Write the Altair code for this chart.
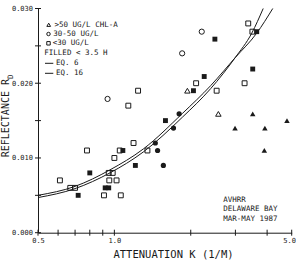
import altair as alt
import pandas as pd

# Delaware Bay, AVHRR match-ups, Mar-May 1987
# diffuse attenuation K (1/m) against reflectance R_D, by chlorophyll class

# < 30 ug/L chl-a
sq_open_k = [0.61, 0.67, 0.70, 0.78, 0.91, 0.95, 0.985, 0.955, 1.02, 1.00, 1.06,
             1.05, 1.19, 1.35, 1.135, 1.24, 2.10, 2.53, 3.26, 3.37, 3.50]
sq_open_r = [0.0070, 0.0060, 0.0060, 0.0110, 0.0050, 0.0080, 0.0080, 0.0070, 0.0070,
             0.0100, 0.0050, 0.0110, 0.0120, 0.0110, 0.0170, 0.0190, 0.0200, 0.0190,
             0.0200, 0.0280, 0.0269]
sq_fill_k = [0.72, 0.80, 0.92, 0.95, 1.08, 1.21, 1.59, 2.05, 2.26, 2.49, 3.51, 3.64]
sq_fill_r = [0.0050, 0.0080, 0.0060, 0.0060, 0.0110, 0.0090, 0.0150, 0.0190, 0.0209,
             0.0259, 0.0219, 0.0269]

# 30-50 ug/L chl-a
ci_open_k = [0.94, 1.85, 2.21]
ci_open_r = [0.0179, 0.0240, 0.0269]
ci_fill_k = [1.45, 1.48, 1.56, 1.71, 1.80]
ci_fill_r = [0.0120, 0.0110, 0.0090, 0.0140, 0.0159]

# > 50 ug/L chl-a
tr_open_k = [1.94, 2.57]
tr_open_r = [0.0190, 0.0159]
tr_fill_k = [2.99, 3.51, 3.92, 3.90, 4.79]
tr_fill_r = [0.0140, 0.0159, 0.0140, 0.0110, 0.0150]

# model curves
eq6_k = [0.5, 0.7, 0.96, 1.3, 1.86, 2.4, 2.99, 3.48, 3.86]
eq6_r = [0.0047, 0.0059, 0.0080, 0.0108, 0.0155, 0.0193, 0.0234, 0.0267, 0.0300]
eq16_k = [0.5, 0.7, 0.96, 1.3, 1.86, 2.4, 2.99, 3.64, 4.21]
eq16_r = [0.0050, 0.0062, 0.0084, 0.0112, 0.0160, 0.0197, 0.0234, 0.0267, 0.0300]

# axis ticks and labels
x_ticks = [0.5, 0.6, 0.7, 0.8, 0.9, 1.0, 2.0, 3.0, 4.0, 5.0]
x_labels = [0.5, 1.0, 5.0]
y_ticks = [0.0, 0.005, 0.010, 0.015, 0.020, 0.025, 0.030]
y_labels = [0.0, 0.010, 0.020, 0.030]

classes = [">50", "30-50", "<30"]

FONT = "DejaVu Sans Mono"
INK = "#1a1a1a"
W, H = 253.7, 224.2


def frame(k, r, cls, filled):
    return pd.DataFrame({"K": k, "R": r, "cls": cls, "filled": filled})


pts = pd.concat([
    frame(sq_open_k, sq_open_r, "<30", False),
    frame(sq_fill_k, sq_fill_r, "<30", True),
    frame(ci_open_k, ci_open_r, "30-50", False),
    frame(ci_fill_k, ci_fill_r, "30-50", True),
    frame(tr_open_k, tr_open_r, ">50", False),
    frame(tr_fill_k, tr_fill_r, ">50", True),
], ignore_index=True)

curves = pd.concat([
    pd.DataFrame({"K": eq6_k, "R": eq6_r, "eq": "EQ. 6"}),
    pd.DataFrame({"K": eq16_k, "R": eq16_r, "eq": "EQ. 16"}),
], ignore_index=True)

xs = alt.Scale(type="log", domain=[0.5, 5], nice=False)
ys = alt.Scale(domain=[0, 0.03], nice=False, zero=False)

shape_enc = alt.Shape("cls:N", scale=alt.Scale(domain=classes,
                      range=["triangle-up", "circle", "square"]), legend=None)
size_enc = alt.Size("cls:N", scale=alt.Scale(domain=classes, range=[30, 24, 25]),
                    legend=None)

x_axis = alt.Axis(values=x_labels, format=".1f", ticks=False, grid=False, title=None,
                  labelFont=FONT, labelFontSize=7, labelColor=INK, labelPadding=3.5,
                  labelFlush=False, labelOverlap=False, domainColor=INK, domainWidth=1,
                  labelOffset={"condition": {"test": "datum.value >= 5", "value": -2.5},
                               "value": 0})
y_axis = alt.Axis(values=y_labels, format=".3f", ticks=False, grid=False, title=None,
                  labelFont=FONT, labelFontSize=7, labelColor=INK, labelPadding=5.5,
                  labelOverlap=False, domainColor=INK, domainWidth=1)

open_pts = alt.Chart(pts[~pts.filled]).mark_point(
    filled=False, color=INK, strokeWidth=1, opacity=1
).encode(
    x=alt.X("K:Q", scale=xs, axis=x_axis),
    y=alt.Y("R:Q", scale=ys, axis=y_axis),
    shape=shape_enc, size=size_enc,
)

fill_pts = alt.Chart(pts[pts.filled]).mark_point(
    filled=True, color=INK, opacity=1
).encode(
    x=alt.X("K:Q", scale=xs), y=alt.Y("R:Q", scale=ys),
    shape=shape_enc, size=size_enc,
)

lines = alt.Chart(curves).mark_line(
    color=INK, strokeWidth=1, interpolate="monotone"
).encode(
    x=alt.X("K:Q", scale=xs), y=alt.Y("R:Q", scale=ys), detail="eq:N",
)

xtick = alt.Chart(pd.DataFrame({"t": x_ticks})).mark_rule(color=INK, strokeWidth=1).encode(
    x=alt.X("t:Q", scale=xs), y=alt.value(H - 3), y2=alt.value(H + 3),
)
ytick = alt.Chart(pd.DataFrame({"t": y_ticks})).mark_rule(color=INK, strokeWidth=1).encode(
    y=alt.Y("t:Q", scale=ys), x=alt.value(-3), x2=alt.value(3),
)


def label(text, x, y, size=7.5, align="left", angle=0, baseline="middle"):
    return alt.Chart(pd.DataFrame({"t": [text]})).mark_text(
        font=FONT, fontSize=size, color=INK, align=align, baseline=baseline, angle=angle
    ).encode(text="t:N", x=alt.value(x), y=alt.value(y))


def symbol(shape, x, y, size):
    return alt.Chart(pd.DataFrame({"t": [0]})).mark_point(
        shape=shape, filled=False, color=INK, strokeWidth=1, size=size, opacity=1
    ).encode(x=alt.value(x), y=alt.value(y))


def key_line(x1, x2, y):
    return alt.Chart(pd.DataFrame({"t": [0]})).mark_rule(color=INK, strokeWidth=1).encode(
        x=alt.value(x1), x2=alt.value(x2), y=alt.value(y))


legend = [
    symbol("triangle-up", 10.7, 16.3, 14),
    label(">50 UG/L CHL-A", 16.5, 16.5),
    symbol("circle", 10.5, 25.5, 12),
    label("30-50 UG/L", 15.3, 25.5),
    symbol("square", 10.5, 34.8, 12),
    label("<30 UG/L", 14.7, 34.8),
    label("FILLED < 3.5 H", 6.3, 44.8),
    key_line(7, 15.3, 54.8),
    label("EQ. 6", 18, 54.8),
    key_line(7, 15.3, 64.8),
    label("EQ. 16", 18, 64.8),
]

notes = [
    label("AVHRR", 185.3, 191.5),
    label("DELAWARE BAY", 185.3, 200.8),
    label("MAR-MAY 1987", 185.3, 210.5),
]

titles = [
    label("ATTENUATION K  (1/M)", 135.5, 246.8, size=10.5, align="center"),
    label("REFLECTANCE R", -29.5, 70.5, size=10, align="right", angle=270,
          baseline="alphabetic"),
    label("D", -25.5, 70.5, size=7.5, align="left", angle=270, baseline="alphabetic"),
]

chart = alt.layer(
    lines, open_pts, fill_pts, xtick, ytick, *legend, *notes, *titles
).properties(
    width=W, height=H,
    autosize=alt.AutoSizeParams(type="none"),
    padding={"left": 38, "top": 8.5, "right": 4.3, "bottom": 28.3},
    background="white",
).configure_view(stroke=None)

chart.save("out.html", embed_options={"renderer": "svg", "actions": False})
